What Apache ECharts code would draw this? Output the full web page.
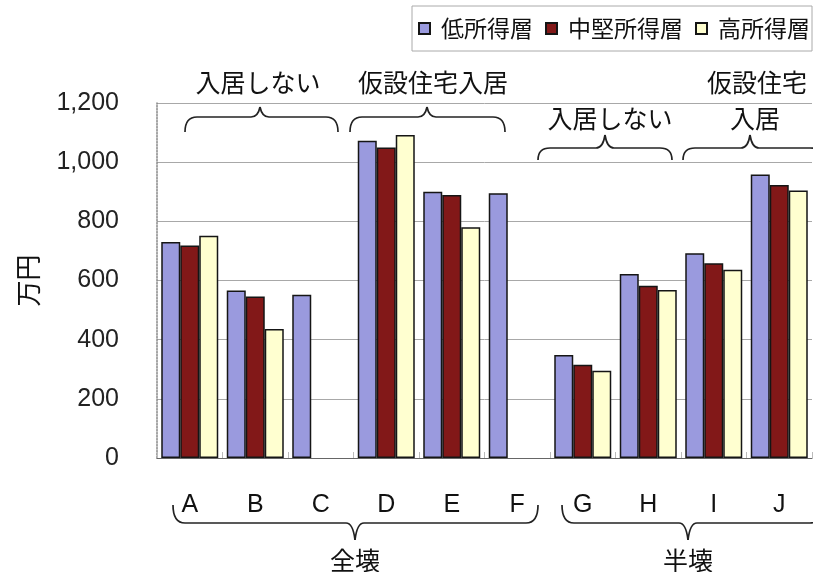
<!DOCTYPE html>
<html>
<head>
<meta charset="utf-8">
<script src="https://cdn.jsdelivr.net/npm/echarts@6/dist/echarts.min.js"></script>
<style>
  html, body { margin: 0; padding: 0; background: #fff; }
  #chart { width: 813px; height: 572px; }
</style>
</head>
<body>
<div id="chart"></div>
<script>
// Categories along the x axis
const categories = ['A', 'B', 'C', 'D', 'E', 'F', 'G', 'H', 'I', 'J'];

// Income-band series (万円); C and F only have the low-income bar
const seriesNames = ['低所得層', '中堅所得層', '高所得層'];
const lowIncome  = [730, 566, 552, 1072, 900, 895, 348, 622, 692, 958];
const midIncome  = [718, 546, null, 1050, 889, null, 315, 582, 658, 923];
const highIncome = [751, 436, null, 1092, 780, null, 295, 568, 636, 904];

// Value axis ticks
const yTicks = [0, 200, 400, 600, 800, 1000, 1200];
const yAxisName = '万円';

// Group annotations above and below the plot
const topNotes = ['入居しない', '仮設住宅入居', '入居しない', '仮設住宅', '入居'];
const bottomNotes = ['全壊', '半壊'];

const colors = ['#9a9ade', '#821818', '#ffffd0'];
const CJK = '"Noto Sans CJK JP", "Noto Sans CJK SC", sans-serif';
const LAT = '"Liberation Sans", Arial, sans-serif';

const chart = echarts.init(document.getElementById('chart'));

function fmt(v) {
  return String(v).replace(/\B(?=(\d{3})+(?!\d))/g, ',');
}

const braceStyle = { fill: null, stroke: '#222', lineWidth: 1.7 };

// Horizontal curly brace built from curves and lines; tip points toward yTip
function braceEls(x1, x2, xm, yEnd, yLine, yTip) {
  const r = 12, t = 9;
  const curve = (ax, ay, cx, cy, bx, by) => ({
    type: 'bezierCurve', silent: true,
    shape: { x1: ax, y1: ay, x2: bx, y2: by, cpx1: cx, cpy1: cy },
    style: braceStyle
  });
  const seg = (ax, ay, bx, by) => ({
    type: 'line', silent: true,
    shape: { x1: ax, y1: ay, x2: bx, y2: by },
    style: braceStyle
  });
  return [
    curve(x1, yEnd, x1, yLine, x1 + r, yLine),
    seg(x1 + r, yLine, xm - t, yLine),
    curve(xm - t, yLine, xm - 2, yLine, xm, yTip),
    curve(xm, yTip, xm + 2, yLine, xm + t, yLine),
    seg(xm + t, yLine, x2 - r, yLine),
    curve(x2 - r, yLine, x2, yLine, x2, yEnd)
  ];
}

function noteEl(text, x, y) {
  return {
    type: 'text', x: x, y: y, silent: true,
    style: {
      text: text, font: '25px ' + CJK, fill: '#111',
      textAlign: 'center', textVerticalAlign: 'middle'
    }
  };
}

const seriesData = [lowIncome, midIncome, highIncome];

const option = {
  backgroundColor: '#ffffff',
  animation: false,
  color: colors,
  legend: {
    data: seriesNames,
    left: 412, top: 6,
    padding: [11, 2, 11, 6],
    borderColor: '#aaa', borderWidth: 1,
    itemWidth: 11, itemHeight: 11, itemGap: 12,
    icon: 'rect',
    textStyle: { fontFamily: CJK, fontSize: 23, color: '#111', padding: [0, 0, 0, 6] }
  },
  grid: { left: 157, right: 1, top: 103, bottom: 114, containLabel: false, outerBoundsMode: 'none' },
  xAxis: {
    type: 'category',
    data: categories,
    axisLine: { show: true, lineStyle: { color: '#666', width: 1.2 } },
    axisTick: { show: true, inside: true, length: 6, lineStyle: { color: '#bbb' } },
    axisLabel: { fontFamily: LAT, fontSize: 25, color: '#111', margin: 35 },
    splitLine: { show: false }
  },
  yAxis: {
    type: 'value',
    min: yTicks[0], max: yTicks[yTicks.length - 1], interval: yTicks[1] - yTicks[0],
    name: yAxisName,
    nameLocation: 'middle', nameRotate: 90, nameGap: 116,
    nameTextStyle: { fontFamily: CJK, fontSize: 26, color: '#111' },
    axisLine: { show: true, lineStyle: { color: '#888', type: 'dotted', width: 1.5 } },
    axisTick: { show: false },
    axisLabel: { fontFamily: LAT, fontSize: 25, color: '#222', margin: 38, formatter: fmt },
    splitLine: { show: true, lineStyle: { color: '#a8a8a8', width: 1 } }
  },
  series: seriesNames.map((name, i) => ({
    name: name,
    type: 'bar',
    data: seriesData[i],
    barWidth: 19,
    barGap: '0%',
    itemStyle: { color: colors[i], borderColor: '#151515', borderWidth: 1.5 }
  })),
  graphic: [].concat(
    braceEls(185, 338, 260, 132, 117, 107),
    braceEls(350, 505, 427, 132, 117, 107),
    braceEls(538, 672, 605, 160, 148, 135),
    braceEls(683, 822, 750, 160, 148, 135),
    braceEls(173, 538, 355, 505, 523, 540),
    braceEls(562, 822, 688, 505, 523, 540),
    [
      noteEl(topNotes[0], 258, 82),
      noteEl(topNotes[1], 433, 82),
      noteEl(topNotes[2], 610, 118),
      noteEl(topNotes[3], 757, 82),
      noteEl(topNotes[4], 755, 118),
      noteEl(bottomNotes[0], 355, 560),
      noteEl(bottomNotes[1], 688, 560)
    ]
  )
};

chart.setOption(option);
</script>
</body>
</html>
